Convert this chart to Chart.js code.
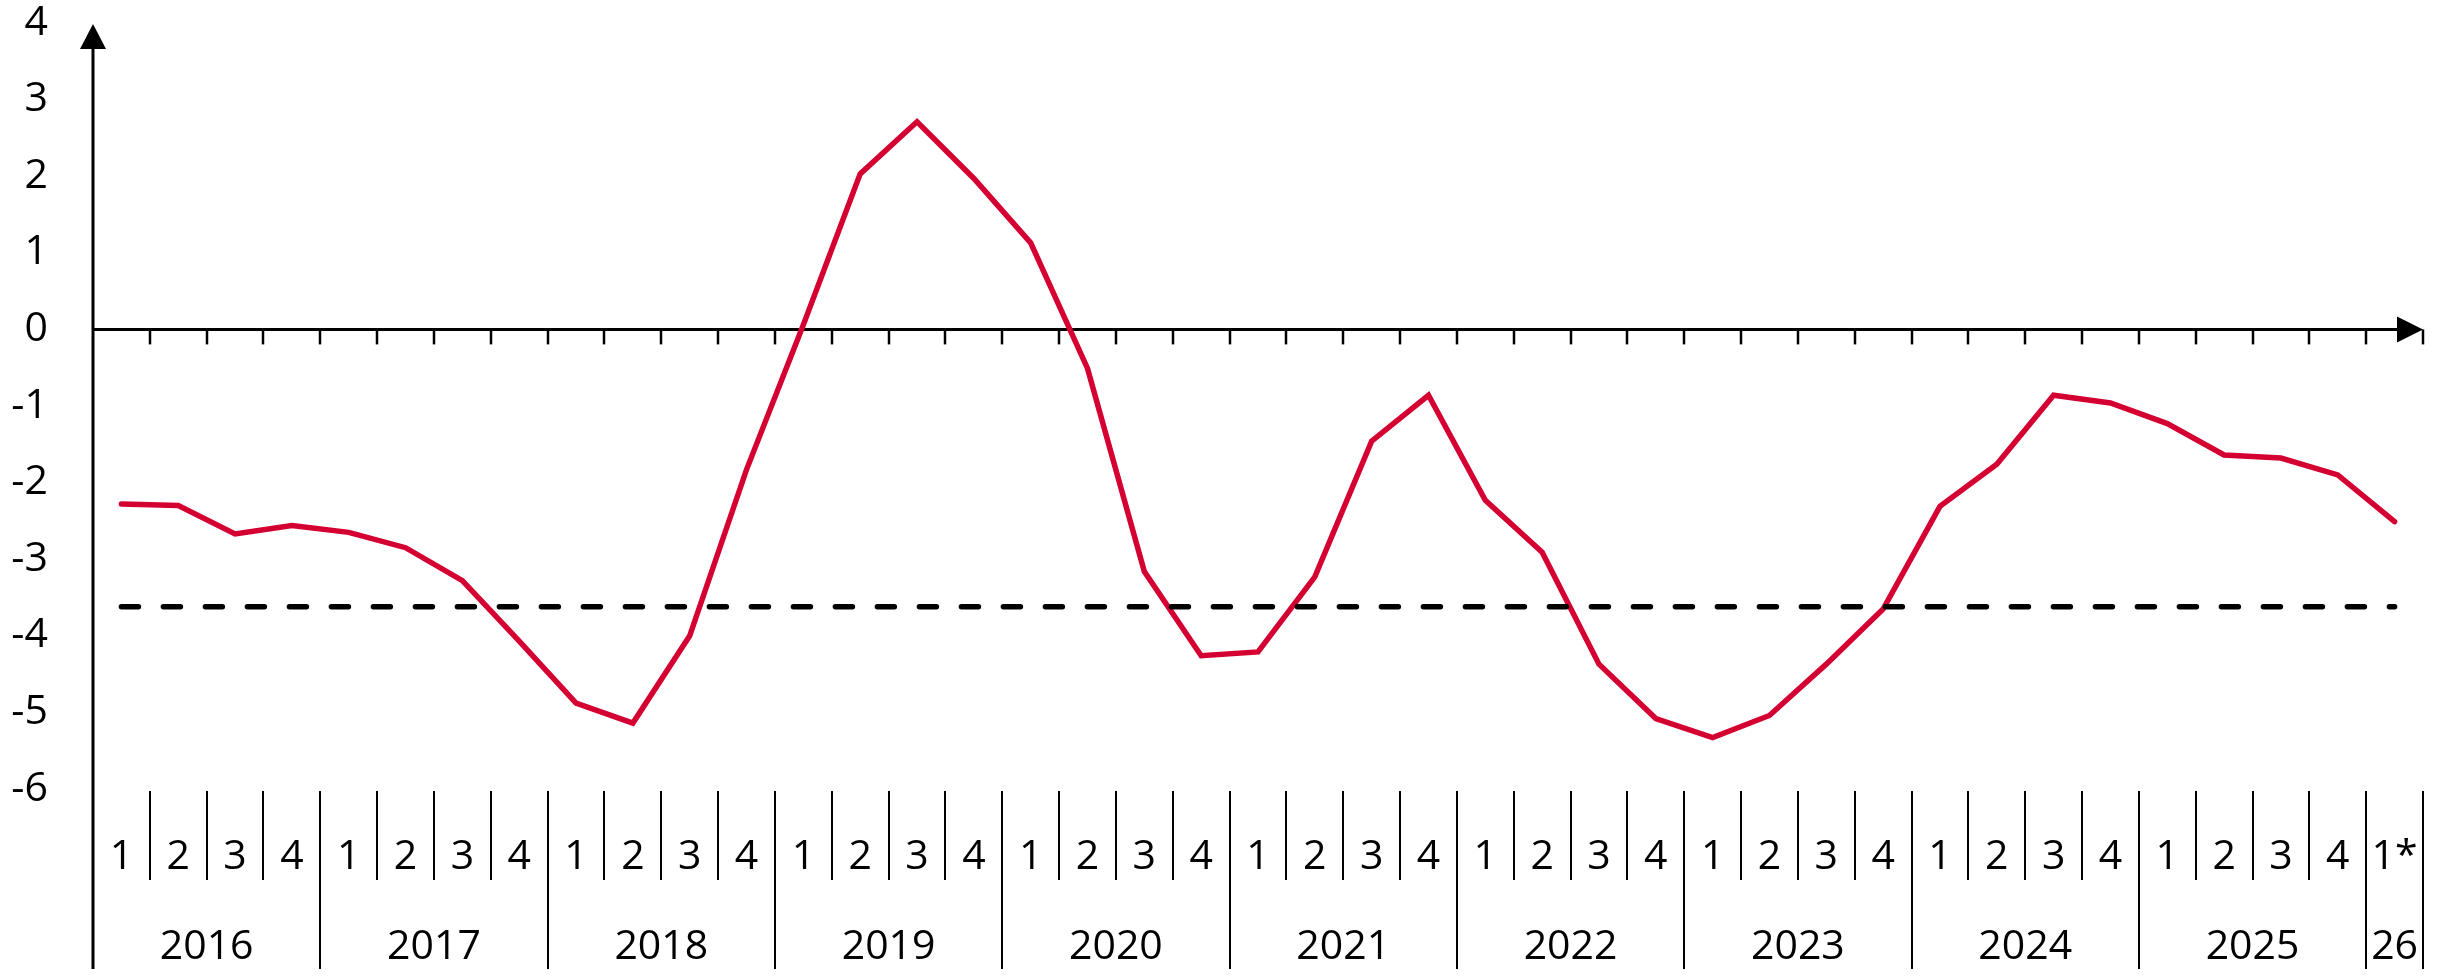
<!DOCTYPE html>
<html>
<head>
<meta charset="utf-8">
<script src="https://cdn.jsdelivr.net/npm/chart.js@4/dist/chart.umd.min.js"></script>
<style>
  html, body { margin: 0; padding: 0; background: #fff; }
  #wrap { width: 2458px; height: 976px; position: relative; }
</style>
</head>
<body>
<div id="wrap"><canvas id="gapChart"></canvas></div>
<script>
// Years shown on the lower axis row ("26" is the short label for 2026)
const yearLabels = ["2016", "2017", "2018", "2019", "2020", "2021", "2022", "2023", "2024", "2025", "26"];
const quarterLabels = ["1", "2", "3", "4"];
const lastQuarterLabel = "1*";

// One category per quarter, 2016 Q1 .. 2026 Q1
const categories = [
  "2016-1", "2016-2", "2016-3", "2016-4",
  "2017-1", "2017-2", "2017-3", "2017-4",
  "2018-1", "2018-2", "2018-3", "2018-4",
  "2019-1", "2019-2", "2019-3", "2019-4",
  "2020-1", "2020-2", "2020-3", "2020-4",
  "2021-1", "2021-2", "2021-3", "2021-4",
  "2022-1", "2022-2", "2022-3", "2022-4",
  "2023-1", "2023-2", "2023-3", "2023-4",
  "2024-1", "2024-2", "2024-3", "2024-4",
  "2025-1", "2025-2", "2025-3", "2025-4",
  "2026-1"
];

// Red series
const seriesValues = [
  -2.28, -2.30, -2.67, -2.56,
  -2.65, -2.85, -3.28, -4.07,
  -4.88, -5.14, -4.00, -1.83,
   0.06,  2.03,  2.71,  1.97,
   1.13, -0.51, -3.16, -4.26,
  -4.21, -3.23, -1.46, -0.86,
  -2.23, -2.91, -4.37, -5.08,
  -5.33, -5.04, -4.37, -3.65,
  -2.31, -1.76, -0.86, -0.96,
  -1.23, -1.64, -1.68, -1.90,
  -2.51
];

// Dashed reference level
const averageLevel = -3.62;

// Y axis ticks
const yMin = -6;
const yMax = 4;

const textFont = "'Open Sans', sans-serif";
const lineRed = "#d50032";

// Axis lines, arrows, quarter ticks and the two-row category labels
const axisPlugin = {
  id: "axisPlugin",
  beforeDatasetsDraw(chart) {
    const { ctx, chartArea } = chart;
    const x = chart.scales.x;
    const y = chart.scales.y;
    const zeroY = y.getPixelForValue(0);
    const half = (x.getPixelForValue(1) - x.getPixelForValue(0)) / 2;
    const boundary = (i) => x.getPixelForValue(0) - half + i * half * 2;
    const n = categories.length;
    const left = chartArea.left;
    const right = boundary(n);
    const bottom = chartArea.bottom;

    ctx.save();
    ctx.strokeStyle = "#000";
    ctx.fillStyle = "#000";

    // vertical axis with arrow
    const tipY = y.getPixelForValue(yMax) + 1;
    ctx.lineWidth = 3;
    ctx.beginPath();
    ctx.moveTo(left, tipY + 20);
    ctx.lineTo(left, bottom + 180);
    ctx.stroke();
    ctx.beginPath();
    ctx.moveTo(left, tipY);
    ctx.lineTo(left - 13, tipY + 25);
    ctx.lineTo(left + 13, tipY + 25);
    ctx.closePath();
    ctx.fill();

    // zero line with arrow
    ctx.beginPath();
    ctx.moveTo(left, zeroY);
    ctx.lineTo(right - 20, zeroY);
    ctx.stroke();
    ctx.beginPath();
    ctx.moveTo(right, zeroY);
    ctx.lineTo(right - 26, zeroY - 13);
    ctx.lineTo(right - 26, zeroY + 13);
    ctx.closePath();
    ctx.fill();

    // small ticks at quarter boundaries
    ctx.lineWidth = 2.5;
    for (let i = 1; i <= n; i++) {
      const bx = Math.round(boundary(i));
      ctx.beginPath();
      ctx.moveTo(bx, zeroY);
      ctx.lineTo(bx, zeroY + 15);
      ctx.stroke();
    }

    // separators in the label area
    ctx.lineWidth = 2;
    for (let i = 1; i <= n; i++) {
      const bx = Math.round(boundary(i));
      const yearEdge = i % 4 === 0 || i === n;
      ctx.beginPath();
      ctx.moveTo(bx, bottom + 2);
      ctx.lineTo(bx, bottom + (yearEdge ? 180 : 91));
      ctx.stroke();
    }

    // quarter and year labels
    ctx.font = "41px " + textFont;
    ctx.textAlign = "center";
    ctx.textBaseline = "middle";
    categories.forEach((c, i) => {
      const label = i === n - 1 ? lastQuarterLabel : quarterLabels[i % 4];
      ctx.fillText(label, x.getPixelForValue(i), bottom + 68);
    });
    yearLabels.forEach((yr, k) => {
      const first = k * 4;
      const last = Math.min(first + 3, n - 1);
      const cx = (boundary(first) + boundary(last + 1)) / 2;
      ctx.fillText(yr, cx, bottom + 158);
    });
    ctx.restore();
  }
};

const ctx = document.getElementById("gapChart").getContext("2d");
new Chart(ctx, {
  type: "line",
  data: {
    labels: categories,
    datasets: [
      {
        label: "Average",
        data: [
          { x: categories[0], y: averageLevel },
          { x: categories[categories.length - 1], y: averageLevel }
        ],
        borderColor: "#000",
        borderWidth: 5.5,
        borderDash: [17, 25],
        borderCapStyle: "round",
        pointRadius: 0,
        fill: false
      },
      {
        label: "Series",
        data: seriesValues,
        borderColor: lineRed,
        borderWidth: 5.5,
        borderCapStyle: "round",
        borderJoinStyle: "miter",
        tension: 0,
        pointRadius: 0,
        fill: false
      }
    ]
  },
  options: {
    responsive: true,
    maintainAspectRatio: false,
    animation: false,
    devicePixelRatio: 1,
    layout: { autoPadding: false, padding: { top: 23, right: 35, bottom: 187, left: 0 } },
    plugins: {
      legend: { display: false },
      tooltip: { enabled: false }
    },
    scales: {
      x: {
        type: "category",
        offset: true,
        display: false
      },
      y: {
        min: yMin,
        max: yMax,
        grid: { display: false, drawTicks: false },
        border: { display: false },
        ticks: {
          stepSize: 1,
          padding: 45,
          color: "#000",
          font: { family: textFont, size: 41, lineHeight: 1 }
        },
        afterFit(scale) {
          scale.width = 93;
          // label padding is horizontal only; keep the plot top/bottom from the layout
          scale.paddingTop = 0;
          scale.paddingBottom = 0;
        }
      }
    }
  },
  plugins: [axisPlugin]
});
</script>
</body>
</html>
